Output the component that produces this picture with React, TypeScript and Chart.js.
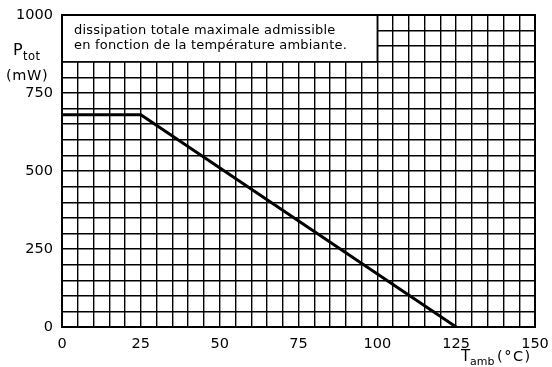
import React, { useEffect, useRef } from "react";
import { Chart, registerables } from "chart.js";

Chart.register(...registerables);

const tempC = [0, 25, 125];
const powerMW = [680, 680, 0];
const xLabelStep = 25;
const yLabelStep = 250;
const noteLines = [
  "dissipation totale maximale admissible",
  "en fonction de la température ambiante.",
];
const noteBox = { x0: 0, x1: 100, y0: 850, y1: 1000 };

const FONT = "'DejaVu Sans', sans-serif";

function txt(ctx: any, s: string, x: number, y: number, font: string, spacing = 0) {
  ctx.font = font;
  (ctx as any).letterSpacing = `${spacing}px`;
  ctx.fillText(s, x, y);
  (ctx as any).letterSpacing = "0px";
}

const overlay = {
  id: "overlay",
  afterDatasetsDraw(chart: any) {
    const { ctx, scales } = chart;
    const xs = scales.x;
    const ys = scales.y;
    const l = xs.getPixelForValue(noteBox.x0);
    const r = xs.getPixelForValue(noteBox.x1);
    const t = ys.getPixelForValue(noteBox.y1);
    const b = ys.getPixelForValue(noteBox.y0);
    ctx.save();
    ctx.fillStyle = "#fff";
    ctx.fillRect(l, t, r - l, b - t);
    ctx.strokeStyle = "#000";
    ctx.lineWidth = 1.5;
    ctx.strokeRect(l, t, r - l, b - t);
    ctx.fillStyle = "#000";
    ctx.textBaseline = "alphabetic";
    ctx.textAlign = "left";
    txt(ctx, noteLines[0], l + 12, t + 19, `13px ${FONT}`, 0.2);
    txt(ctx, noteLines[1], l + 12, t + 34, `13px ${FONT}`, 0.2);

    // y axis title
    txt(ctx, "P", 13, 55, `16px ${FONT}`);
    txt(ctx, "tot", 23, 60, `11.5px ${FONT}`, 0.5);
    txt(ctx, "(mW)", 6, 80, `14.5px ${FONT}`, 0.6);

    // x axis title
    txt(ctx, "T", 461, 361, `15px ${FONT}`);
    txt(ctx, "amb", 470, 365, `11px ${FONT}`);
    txt(ctx, "(°C)", 497, 361, `14.5px ${FONT}`, 1.5);

    // frame
    const ca = chart.chartArea;
    ctx.lineWidth = 2;
    ctx.strokeRect(ca.left, ca.top, ca.right - ca.left, ca.bottom - ca.top);
    ctx.restore();
  },
};

export default function App() {
  const ref = useRef<HTMLCanvasElement>(null);
  useEffect(() => {
    document.body.style.margin = "0";
    const chart = new Chart(ref.current!, {
      type: "line",
      data: {
        datasets: [
          {
            data: tempC.map((x, i) => ({ x, y: powerMW[i] })),
            borderColor: "#000",
            borderWidth: 3,
            pointRadius: 0,
            tension: 0,
          },
        ],
      },
      options: {
        animation: false,
        responsive: false,
        plugins: { legend: { display: false }, tooltip: { enabled: false } },
        layout: { padding: { top: 15, right: 17, left: 0, bottom: 0 } },
        scales: {
          x: {
            type: "linear",
            min: 0,
            max: 150,
            afterFit: (s: any) => {
              s.height = 40;
              s.paddingLeft = 0;
              s.paddingRight = 0;
            },
            border: { display: false },
            grid: { color: "#000", lineWidth: 1.4, drawTicks: false },
            ticks: {
              stepSize: 5,
              autoSkip: false,
              maxRotation: 0,
              padding: 9,
              color: "#000",
              font: { family: FONT, size: 14.5 },
              callback: (v: any) => (v % xLabelStep === 0 ? String(v) : ""),
            },
          },
          y: {
            type: "linear",
            min: 0,
            max: 1000,
            afterFit: (s: any) => {
              s.width = 62;
              s.paddingTop = 0;
              s.paddingBottom = 0;
            },
            border: { display: false },
            grid: { color: "#000", lineWidth: 1.4, drawTicks: false },
            ticks: {
              stepSize: 50,
              autoSkip: false,
              padding: 9,
              color: "#000",
              font: { family: FONT, size: 14.5 },
              callback: (v: any) => (v % yLabelStep === 0 ? String(v) : ""),
            },
          },
        },
      },
      plugins: [overlay],
    });
    return () => chart.destroy();
  }, []);
  return <canvas ref={ref} width={552} height={367} style={{ display: "block" }} />;
}
